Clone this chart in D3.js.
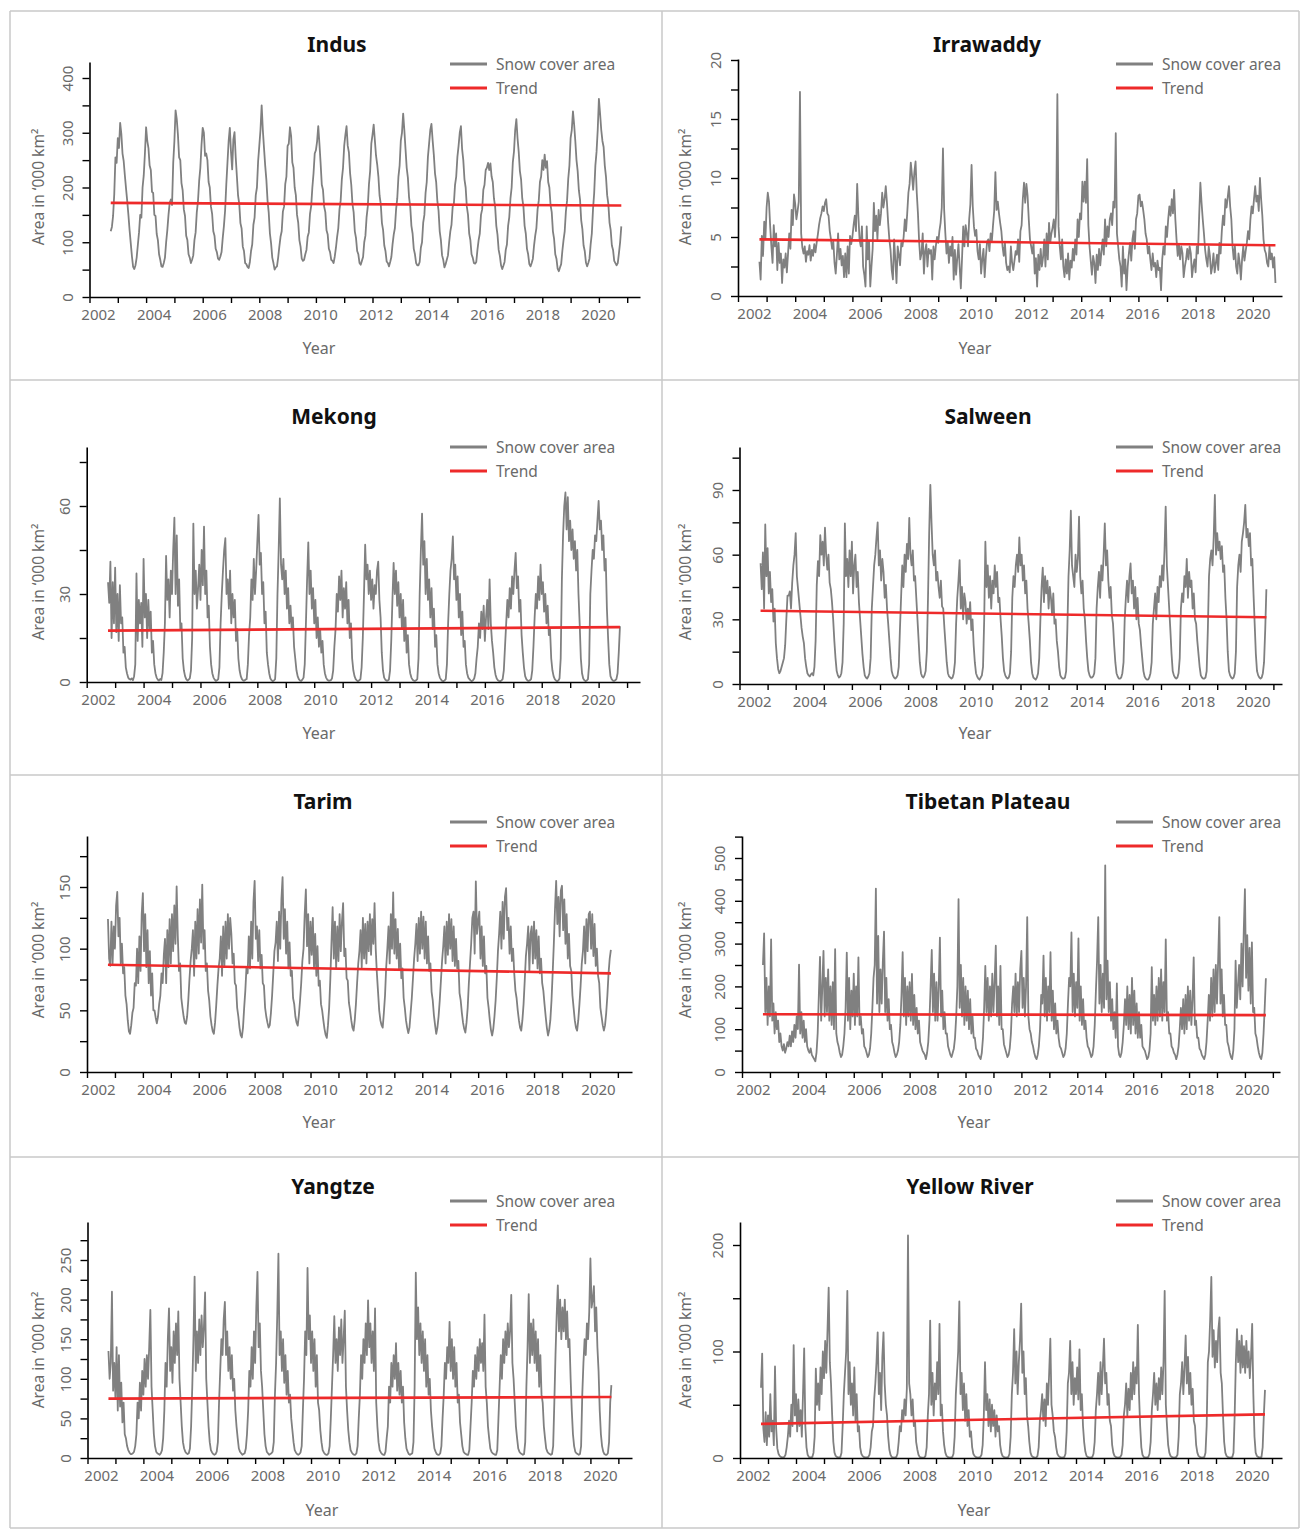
<!DOCTYPE html>
<html><head><meta charset="utf-8">
<script src="https://cdn.jsdelivr.net/npm/d3@7"></script>
<style>
body{margin:0;background:#fff}
svg text{font-family:"Noto Sans",sans-serif}
</style></head>
<body>
<svg id="chart" width="1300" height="1529"></svg>
<script>
// ---------- DATA (semi-monthly values, rows = Oct..Sep water years, first row starts Oct 2002) ----------
const startYear = 2002.75;
const stepYear = 1 / 24;
const basins = ["Indus", "Irrawaddy", "Mekong", "Salween", "Tarim", "Tibetan Plateau", "Yangtze", "Yellow River"];

const indus = [
[120,128,148,188,255,245,290,272,318,298,262,248,222,198,175,150,122,98,74,55,51,58,72,95],
[118,150,145,200,222,262,310,285,272,240,232,192,190,150,148,115,104,78,68,56,55,62,72,100],
[122,150,172,178,168,245,285,341,325,296,255,250,208,195,160,148,112,104,78,72,62,68,76,104],
[118,155,175,212,236,278,309,300,258,262,250,210,200,165,152,120,112,88,82,70,68,74,82,108],
[130,158,205,245,285,309,265,233,288,301,255,220,185,170,135,125,92,84,62,60,55,53,64,84],
[96,132,145,186,200,248,276,305,350,305,272,240,214,176,154,116,98,72,62,50,54,56,72,92],
[110,120,156,165,206,220,276,280,310,294,246,236,200,186,150,136,104,92,70,66,68,78,86,110],
[118,152,166,200,226,262,268,284,312,280,244,205,196,165,155,122,114,88,82,68,66,62,74,90],
[110,126,160,176,215,236,276,296,312,276,264,226,205,170,155,120,108,84,78,62,59,66,73,100],
[112,146,165,206,230,280,296,315,286,258,242,220,185,170,135,122,94,84,65,62,56,64,73,96],
[114,126,160,180,220,240,285,300,335,305,270,236,218,182,165,130,116,88,78,62,58,58,64,90],
[100,136,150,190,210,256,280,305,316,286,260,226,210,175,158,120,104,76,68,54,60,68,76,100],
[120,132,165,170,205,220,256,276,300,312,270,250,215,200,165,150,116,104,78,72,62,61,64,86],
[104,116,150,160,196,205,232,236,245,232,244,220,210,180,165,130,114,86,75,58,51,57,64,86],
[96,130,146,180,200,246,266,305,325,290,265,230,215,180,165,130,116,88,78,60,56,62,70,94],
[112,126,160,176,210,220,250,232,260,236,248,210,200,168,155,120,106,78,70,52,47,54,60,84],
[104,120,156,176,216,240,290,305,339,315,285,250,230,195,178,140,124,94,84,63,56,62,70,96],
[116,160,190,240,265,305,362,335,305,285,274,240,220,186,170,136,122,94,86,66,62,58,62,80],
[100,129]];

const irrawaddy = [
[2.9,1.4,5.1,3.4,6.3,4.8,7.5,8.75,8.0,5.9,4.2,2.8,6.0,4.2,5.3,2.2,4.5,2.8,3.6,1.1,3.1,2.4,3.6,2.0],
[3.6,5.3,4.0,7.3,6.0,8.6,7.8,6.5,7.2,8.0,17.3,5.3,4.1,3.6,4.2,2.9,3.8,3.5,4.3,3.0,3.9,3.4,4.4,3.7],
[4.5,5.2,6.0,6.6,7.0,7.6,7.2,7.9,8.2,7.0,6.8,5.5,4.8,4.0,4.6,2.8,1.9,3.5,5.3,3.1,4.0,2.6,3.4,1.6],
[3.6,1.6,4.2,1.9,5.1,4.4,5.0,6.0,6.8,5.5,9.5,6.8,4.8,4.2,5.9,2.5,1.8,0.8,5.9,3.1,4.6,0.8,2.5,4.0],
[7.9,5.5,6.8,4.8,7.3,6.0,7.0,8.75,7.5,8.2,9.3,7.9,6.2,4.8,3.9,2.2,1.4,4.8,3.1,1.1,4.2,3.5,2.6,4.5],
[4.2,5.0,6.5,5.5,7.0,8.75,9.5,11.3,10.2,9.0,10.5,11.4,8.75,7.0,4.6,3.1,3.6,5.3,1.9,3.8,4.4,2.5,4.0,3.6],
[3.9,1.4,4.2,3.1,4.2,5.0,4.5,5.5,6.2,7.5,12.5,7.3,5.3,3.6,4.6,2.8,4.2,3.4,5.0,1.4,3.9,1.8,3.2,4.4],
[2.5,0.65,3.2,5.9,4.2,6.0,5.3,4.2,6.5,7.8,11.1,7.6,5.9,5.1,5.6,3.8,3.1,4.4,1.9,3.1,4.0,1.6,3.3,4.6],
[4.8,3.8,5.3,4.6,6.0,7.2,10.5,7.3,8.0,7.0,6.2,5.5,4.2,3.4,4.5,2.8,2.2,2.5,2.0,4.2,2.8,2.2,3.0,3.8],
[3.5,4.8,2.9,5.5,6.0,8.2,9.6,7.9,9.5,8.5,6.5,4.8,4.2,3.6,4.5,1.9,3.2,0.8,3.5,2.2,4.0,2.5,3.3,4.8],
[2.5,5.3,3.1,6.2,4.5,5.3,5.8,6.5,5.0,7.0,17.1,5.9,4.2,3.1,4.8,2.5,1.6,3.1,1.9,3.6,1.4,3.0,2.4,4.0],
[3.0,4.8,3.5,6.5,5.0,7.0,6.5,9.7,8.0,9.7,7.9,11.6,6.0,4.2,3.0,1.8,3.4,2.8,1.1,3.5,2.2,4.0,2.6,3.8],
[4.8,3.5,6.5,4.2,5.9,5.0,6.5,7.0,6.0,8.0,7.5,13.8,5.3,4.2,3.1,2.5,0.8,4.2,1.9,3.1,0.5,2.5,3.6,4.5],
[3.0,4.8,5.5,4.0,6.5,7.0,8.5,8.6,7.6,8.0,7.3,6.5,5.3,4.8,3.6,4.2,3.1,2.2,3.6,2.5,2.8,1.6,3.0,2.2],
[2.4,0.5,3.1,4.2,3.5,5.9,5.0,6.5,7.6,6.8,8.2,7.0,9.0,6.5,4.8,3.4,4.4,3.1,4.2,3.6,1.6,2.5,3.1,4.0],
[3.1,4.2,3.6,1.6,2.5,3.1,2.0,4.2,3.6,6.8,9.6,7.9,6.5,5.3,3.9,3.1,2.5,4.2,3.4,1.9,2.5,3.6,2.0,2.8],
[3.5,2.2,4.5,3.6,5.5,6.8,6.0,8.2,7.5,8.4,9.3,7.6,6.5,4.2,3.1,4.2,2.5,1.9,3.6,2.8,1.4,3.1,4.2,3.0],
[3.8,4.5,5.5,4.8,6.5,7.6,7.0,8.2,9.3,8.0,8.5,7.2,10.0,8.2,6.8,4.8,3.9,3.6,2.8,2.5,4.2,3.1,3.6,2.4],
[3.3,1.1]];

const mekong = [
[34,27,41,15,34,20,39,17,30,14,33,20,22,10,12,5,3,1.5,1,0.8,1.2,0.6,2,6],
[37,14,28,20,27,12,42,22,30,15,28,18,24,10,14,6,3,1.5,0.8,0.5,1,0.7,3,10],
[20,43,28,35,22,38,30,45,56,30,50,26,35,18,20,8,4,2,1,0.5,0.8,1.2,4,15],
[54,30,38,25,32,40,28,45,33,53,30,38,22,26,12,6,3,1.5,0.8,0.4,0.6,1,5,20],
[30,38,45,49,30,35,25,38,20,30,22,28,14,18,8,4,2,1,0.5,0.5,0.8,1,6,16],
[22,35,28,42,30,38,48,57,40,44,30,34,20,24,10,6,3,1.2,0.6,0.3,0.5,1,8,30],
[45,62.6,40,35,42,30,38,25,32,20,26,18,22,12,8,4,2,1,0.5,0.4,0.8,1.5,6,20],
[35,47.6,30,38,25,32,20,28,15,22,12,18,10,14,6,3,1.5,0.8,0.5,0.5,0.6,1.2,4,12],
[18,30,24,36,28,38,22,32,25,34,20,28,15,20,8,4,2,1,0.5,0.3,0.6,1,5,15],
[30,46.8,35,40,30,38,28,35,25,33,30,38,41,28,22,10,4,1.5,0.8,0.5,0.5,0.8,4,14],
[28,40.6,30,38,26,34,22,30,18,28,14,22,10,16,6,3,1.5,0.8,0.5,0.4,0.6,1,8,30],
[45,57.4,40,48,30,42,28,35,22,32,18,25,12,16,6,3,1.5,0.8,0.4,0.3,0.5,1,6,20],
[30,38,42,49.6,35,40,28,36,22,30,16,24,12,14,6,3,1.5,1,0.5,0.3,0.6,1.2,3,8],
[12,20,15,24,18,26,14,22,28,18,35,20,14,10,5,2.5,1.2,0.6,0.4,0.3,0.5,1,4,12],
[20,28,22,32,25,36,30,38,44,32,36,24,28,16,10,5,2,1,0.5,0.4,0.6,1,4,12],
[22,30,25,36,28,40,30,34,24,30,20,26,16,18,8,4,2,1,0.5,0.3,0.5,1.2,8,35],
[50,60,64.6,52,63,48,55,45,52,42,48,38,45,30,20,8,3,1.2,0.6,0.3,0.5,1,6,30],
[38,45,42,50,48,55,61.7,52,55,45,50,38,42,25,15,6,2,1,0.5,0.4,0.6,1,3,10],
[19]];

const salween = [
[56,44,61,35,74,50,63,42,52,38,44,29,35,19,12,7,5,6,8,10,12,18,30,41],
[41,43,35,47,55,60,70,50,44,38,32,26,22,19,12,8,5,4,3.5,4.5,5,4,8,20],
[46,57,50,69,60,66,55,72.5,60,53,60,47,44,38,30,20,12,6,4,3,3.5,5,10,28],
[74.5,50,58,45,62,50,66,42,55,60,45,52,38,30,22,14,8,4,3,2.5,3.5,5,12,35],
[45,55,60,68,75,55,62,48,58,52,40,46,35,28,20,12,6,4,3,2.5,3,4,8,25],
[40,55,45,60,52,65,58,77,60,55,62,48,50,40,30,20,10,5,3.5,3,4,6,15,40],
[70,92.4,75,60,55,62,48,52,45,40,48,36,35,26,18,10,5,3.5,3,2.5,3,5,10,28],
[40,48,57.5,35,45,30,42,38,28,35,30,38,25,30,18,10,5,3.5,2.5,2,3,4,8,30],
[66,45,55,40,50,35,48,42,55,45,52,38,40,30,22,12,6,4,3,2.5,3,5,15,40],
[50,45,55,60,52,68,55,60,48,55,42,48,35,28,20,10,5,3,2.5,2,3,5,12,30],
[45,54,38,50,42,48,35,45,40,32,42,28,30,20,15,8,4,3,2.5,2.5,3,6,25,50],
[62,80.4,55,50,45,60,52,58,77.6,50,42,48,35,30,20,12,6,4,3,3,3.5,5,12,35],
[45,52,40,55,48,60,74.5,55,62,48,40,45,32,28,18,10,5,3.5,2.5,2.5,3,5,10,30],
[40,48,38,50,55.9,42,48,35,45,30,40,28,25,18,12,6,3.5,2.5,2,2,3,5,10,28],
[35,42,30,45,38,50,45,55,48,62,82.3,55,45,35,25,14,6,4,3,2.5,3,5,12,35],
[42,38,50,45,58,40,52,45,48,35,42,30,28,20,14,8,4,3,2.5,2.5,3,6,25,50],
[58,62,55,68,87.7,60,70,62,66,58,64,52,55,40,30,15,6,4,3,2.5,3,5,15,45],
[55,60,52,66,70,75,83.1,68,72,64,70,55,58,42,28,14,6,4,3,2.5,3,5,10,25],
[44]];

const tarim = [
[124,92,86,122,88,118,100,135,146,110,125,88,104,80,85,62,55,42,33,31,38,48,52,72],
[70,100,72,110,82,128,145,98,128,85,115,72,98,62,80,50,50,44,39.5,45,55,62,80,72],
[95,108,72,115,85,124,88,128,98,135,104,150.5,110,82,88,60,52,45,40,39,45,58,75,90],
[100,115,78,122,92,132,96,140,105,152,100,115,82,88,66,58,45,38,33,31,40,54,70,84],
[92,110,78,118,85,122,92,128,100,125,112,88,96,72,70,52,45,36,30,28,36,52,66,85],
[80,110,84,122,92,138,155,108,118,90,115,84,95,72,70,52,45,40,36,38,48,62,80,98],
[105,122,90,130,100,140,158,108,132,96,122,84,105,78,82,60,55,45,40,37.6,46,58,72,90],
[100,128,148,102,128,88,122,95,125,84,112,78,102,70,74,55,50,42,35,30,27.7,38,52,75],
[105,133.6,92,122,84,118,90,128,98,122,137,94,100,76,74,56,50,42,36,33.6,42,55,72,88],
[98,115,85,125,92,120,88,122,98,128,95,124,104,137,100,80,65,50,42,38,36,48,62,85],
[100,118,88,128,100,145.7,96,124,92,116,84,104,76,84,60,52,42,36,31.5,36,48,60,76,92],
[104,120,90,125,96,130,100,126,92,122,88,110,82,88,65,58,46,38,31,36,45,58,74,90],
[102,118,88,122,95,128,100,124,90,118,86,108,84,90,64,58,48,40,35,32,40,52,72,88],
[104,125,130,96,154.6,112,122,130,92,118,86,110,80,86,60,52,42,34,29.6,35,45,58,76,98],
[112,130,100,138,108,142,149,115,125,96,118,90,100,80,66,60,50,42,36,33.6,42,55,74,94],
[104,118,82,112,118,88,122,92,115,84,110,80,92,72,66,55,45,36,29.6,34,42,58,80,104],
[132,155,120,142,110,147,151,115,140,104,128,92,112,86,82,62,52,42,36,33.6,42,55,70,88],
[98,118,88,124,98,128,130,100,128,94,120,86,100,78,72,52,45,38,33.6,38,48,62,80,92],
[99]];

const tibetan = [
[250,324,140,220,110,200,130,310,120,160,90,140,100,120,70,90,60,50,65,45,55,70,60,85],
[60,95,70,110,80,130,100,251,90,140,80,120,70,100,60,50,45,55,40,35,30,25,45,90],
[180,269,120,200,283,130,220,140,240,120,200,110,210,100,287,90,70,60,45,35,40,60,90,150],
[279,120,220,100,190,130,230,110,200,130,268,110,130,90,100,60,55,45,35,40,55,90,150,220],
[250,428.6,160,318,140,240,160,260,328,140,220,120,170,100,110,70,60,45,35,40,50,70,110,180],
[280,130,220,110,200,130,210,120,229,110,180,100,150,90,120,70,60,50,45,40,30,45,70,120],
[200,285,140,230,120,210,120,200,314,130,190,100,140,90,90,60,50,40,35,45,55,80,130,200],
[404,150,250,130,220,110,200,120,190,100,170,90,130,80,80,55,50,40,35,30,45,80,150,248],
[140,220,120,200,130,230,140,210,295,130,200,110,248,100,100,65,55,45,35,40,55,90,160,200],
[140,230,130,210,140,240,283,150,220,130,200,362,130,100,90,70,60,45,35,30,40,60,100,180],
[160,272,130,220,120,200,140,280,120,190,100,160,90,120,80,60,55,45,35,40,55,90,160,220],
[200,326,140,230,130,210,150,312,120,200,110,170,100,120,80,60,55,45,35,40,60,110,190,260],
[362,160,250,140,230,150,483,170,260,140,210,120,170,100,140,80,207,60,40,35,45,70,110,170],
[110,200,100,180,90,220,110,190,90,160,80,140,80,110,60,55,50,40,30,35,50,90,245,120],
[180,110,200,120,220,130,240,120,210,140,310,120,140,90,90,60,55,45,40,30,40,60,100,150],
[100,170,90,180,100,200,120,190,110,170,268,110,120,80,80,55,50,40,35,30,40,70,120,180],
[120,220,130,240,140,250,160,260,362,160,240,130,180,110,110,70,60,45,35,30,50,100,260,150],
[200,250,170,300,200,330,427,220,320,190,290,160,303,140,150,90,80,60,45,35,30,45,90,150],
[219]];

const yangtze = [
[135,100,120,210,85,120,75,140,60,130,65,95,45,70,30,25,15,10,7,5,5,6,8,15],
[30,70,50,95,60,110,80,125,90,130,100,140,187,90,60,30,15,8,6,5,4,6,10,25],
[60,120,90,150,189,110,140,95,160,120,170,130,185,100,70,40,20,12,8,6,5,6,12,40],
[90,150,229,110,160,120,175,130,180,140,165,209,100,70,40,20,10,7,5,4,5,8,20,70],
[110,150,130,175,197,130,160,110,140,100,130,85,100,60,40,25,12,8,6,4,5,6,12,30],
[60,110,90,140,100,160,120,190,235,140,170,110,90,60,30,15,8,6,4,5,6,8,20,80],
[120,180,258,130,160,110,150,95,130,80,110,70,80,50,35,20,10,7,5,4,5,7,15,60],
[100,160,130,240,150,180,120,160,110,150,90,130,70,60,35,20,10,7,5,4,4,6,15,50],
[90,130,179,120,150,110,165,130,175,120,150,186,90,60,35,20,10,7,5,4,4,6,15,50],
[80,130,100,150,120,170,130,199,140,170,120,160,110,189,70,40,20,10,7,5,4,4,8,25],
[40,90,70,120,90,130,100,145,85,120,80,110,70,90,45,25,12,8,5,4,5,6,20,90],
[234,150,190,130,170,120,160,110,150,90,130,80,100,60,40,25,12,8,5,4,4,6,15,50],
[80,120,100,140,120,172,110,150,100,140,90,120,70,80,45,30,15,8,6,5,4,4,10,40],
[70,110,90,130,100,140,110,150,120,145,110,181,90,70,40,25,12,8,6,5,4,4,10,50],
[90,130,100,150,120,160,130,170,140,160,206,120,100,70,40,25,12,8,6,5,4,5,20,90],
[140,207,120,170,130,175,120,160,110,150,90,130,80,70,40,25,12,8,6,5,4,5,15,70],
[130,180,218,160,200,150,190,160,200,150,185,140,150,100,60,30,15,8,6,5,4,5,15,80],
[120,150,130,170,150,185,252,190,200,217,160,190,140,110,60,30,15,8,5,4,4,6,20,70],
[92]];

const yellow = [
[66,98,28,15,43,12,40,20,60,25,35,12,86,28,9,4,2,1,0.5,0.5,1,3,10,20],
[35,20,50,30,106,40,60,25,55,30,45,20,60,103,30,10,3,1,0.5,0.5,1,5,20,84],
[50,70,45,85,60,100,75,110,80,120,160,90,70,40,15,5,2,1,0.5,0.5,1,5,30,60],
[80,100,157,60,90,50,70,40,85,35,60,25,30,10,4,2,1,0.5,0.5,0.5,1,3,10,25],
[30,55,70,90,118,60,80,45,95,118,70,50,40,20,8,3,1,0.5,0.3,0.5,1,4,15,30],
[25,45,35,55,40,65,209,70,60,40,55,30,35,15,8,3,1,0.5,0.3,0.3,0.5,2,10,40],
[60,129,50,80,40,70,55,90,60,126,40,50,25,12,5,2,1,0.5,0.3,0.5,1,4,20,60],
[80,100,147,60,80,45,70,35,60,30,45,20,25,10,4,2,1,0.5,0.3,0.5,1,3,12,40],
[90,45,60,30,55,25,50,30,45,20,40,25,30,12,5,2,1,0.5,0.3,0.5,1,4,20,60],
[80,121,70,100,60,90,110,145,80,100,60,75,40,30,15,5,2,1,0.5,0.3,0.5,2,10,35],
[45,60,35,55,30,70,50,80,112,50,40,25,20,10,4,2,1,0.5,0.3,0.5,1,4,25,70],
[80,110,60,90,50,75,60,85,55,102,45,60,30,15,6,2,1,0.5,0.3,0.5,1,4,15,45],
[60,80,50,90,60,85,112,70,80,50,60,35,30,12,5,2,1,0.5,0.3,0.5,1,3,12,40],
[50,70,40,65,45,80,55,90,60,85,70,125,60,30,10,3,1,0.5,0.3,0.5,1,4,15,45],
[60,80,50,70,45,75,55,85,60,90,157,50,30,12,5,2,1,0.5,0.3,0.5,1,3,20,60],
[70,90,60,85,115,70,95,60,80,50,65,35,30,12,5,2,1,0.5,0.3,0.5,1,5,30,90],
[100,130,170,95,120,85,110,90,120,132,80,70,40,15,5,2,1,0.5,0.3,0.5,1,5,40,90],
[121,90,110,80,115,85,105,80,110,85,100,75,95,126,60,20,5,2,1,0.5,0.5,1,10,40],
[64]];

const seriesData = [indus, irrawaddy, mekong, salween, tarim, tibetan, yangtze, yellow];
// Trend line values at start and end of record
const trendStart = [172, 4.8, 17.5, 34, 87, 135, 75, 32];
const trendEnd   = [167, 4.3, 18.7, 31, 80, 133, 77, 41];
// Y axis tick steps (minor) and labelled steps
const yTickStep  = [50, 2.5, 15, 15, 25, 50, 25, 50];
const yLabelStep = [100, 5, 30, 30, 50, 100, 50, 100];
const yearTicks = d3.range(2002, 2022);
const yearLabels = d3.range(2002, 2021, 2);
const legendLabels = ["Snow cover area", "Trend"];

// ---------- LAYOUT ----------
const layout = [
 {x0:89.5, ppy:28.3,  xEnd:640,  lab:[98,598],   y0:297,  refVal:400, refPx:78,   top:62,   title:[337,44],   yt:[38,187],   year:[319,348],   leg:[450,64]},
 {x0:738,  ppy:28.6,  xEnd:1282, lab:[754,1253], y0:296,  refVal:20,  refPx:60,   top:59,   title:[987,44],   yt:[685,187],  year:[975,348],   leg:[1116,64]},
 {x0:86.7, ppy:28.44, xEnd:640,  lab:[98,598],   y0:682,  refVal:60,  refPx:506,  top:447,  title:[334,416],  yt:[38,582],   year:[319,733],   leg:[450,447]},
 {x0:739.5,ppy:28.1,  xEnd:1282, lab:[754,1253], y0:684,  refVal:90,  refPx:490,  top:447,  title:[988,416],  yt:[685,582],  year:[975,733],   leg:[1116,447]},
 {x0:87,   ppy:27.94, xEnd:632,  lab:[98,598],   y0:1072, refVal:150, refPx:887,  top:836,  title:[323,801],  yt:[38,960],   year:[319,1122],  leg:[450,822]},
 {x0:742,  ppy:27.94, xEnd:1280, lab:[753,1252], y0:1072, refVal:500, refPx:858,  top:836,  title:[988,801],  yt:[685,960],  year:[974,1122],  leg:[1116,822]},
 {x0:87.5, ppy:27.94, xEnd:632,  lab:[101,600],  y0:1458, refVal:250, refPx:1260, top:1222, title:[333,1186], yt:[38,1350],  year:[322,1510],  leg:[450,1201]},
 {x0:740,  ppy:28.0,  xEnd:1282, lab:[753,1252], y0:1458, refVal:200, refPx:1245, top:1222, title:[970,1186], yt:[685,1350],  year:[974,1510],  leg:[1116,1201]}
];
const gridV = [10, 662, 1299];
const gridH = [11, 380, 775, 1157, 1528];

const GRAY = "#808080", RED = "#ee2a2a", TXT = "#6a6a6a";
const svg = d3.select("#chart");

// panel borders
svg.append("g").selectAll("line").data(gridV).join("line")
  .attr("x1", d => d).attr("x2", d => d).attr("y1", gridH[0]).attr("y2", gridH[gridH.length-1])
  .attr("stroke", "#c9c9c9").attr("stroke-width", 1.5);
svg.append("g").selectAll("line").data(gridH).join("line")
  .attr("y1", d => d).attr("y2", d => d).attr("x1", gridV[0]).attr("x2", gridV[gridV.length-1])
  .attr("stroke", "#c9c9c9").attr("stroke-width", 1.5);

function styleAxis(g) {
  g.selectAll(".domain").attr("stroke", "#000").attr("stroke-width", 1.6);
  g.selectAll(".tick line").attr("stroke", "#000").attr("stroke-width", 1.4);
  g.selectAll("text").attr("fill", TXT).style("font-size", "15px").style("font-family", "'Noto Sans', sans-serif");
}

basins.forEach((name, i) => {
  const L = layout[i];
  const g = svg.append("g");
  const x = d3.scaleLinear().domain([2002, 2002 + (L.xEnd - L.x0) / L.ppy]).range([L.x0, L.xEnd]);
  const yRef = d3.scaleLinear().domain([0, L.refVal]).range([L.y0, L.refPx]);
  const y = d3.scaleLinear().domain([0, yRef.invert(L.top)]).range([L.y0, L.top]);
  const xLab = d3.scaleLinear().domain([2002, 2020]).range(L.lab);
  const vals = seriesData[i].flat();
  const tYear = j => startYear + j * stepYear;

  // series line
  g.append("path").datum(vals)
    .attr("fill", "none").attr("stroke", GRAY).attr("stroke-width", 1.8).attr("stroke-linejoin", "round")
    .attr("d", d3.line().x((d, j) => x(tYear(j))).y(d => y(d)));

  // trend line
  const tr = [[tYear(0), trendStart[i]], [tYear(vals.length - 1), trendEnd[i]]];
  g.append("path").datum(tr)
    .attr("fill", "none").attr("stroke", RED).attr("stroke-width", 2.6)
    .attr("d", d3.line().x(d => x(d[0])).y(d => y(d[1])));

  // x axis ticks
  const xa = g.append("g").attr("transform", `translate(0,${L.y0})`)
    .call(d3.axisBottom(x).tickValues(yearTicks.filter(v => x(v) <= L.xEnd - 2)).tickSize(6).tickSizeOuter(0).tickFormat(""));
  styleAxis(xa);
  // x labels
  const xl = g.append("g").attr("transform", `translate(0,${L.y0})`)
    .call(d3.axisBottom(xLab).tickValues(yearLabels).tickSize(0).tickFormat(d3.format("d")));
  xl.select(".domain").remove();
  styleAxis(xl);
  xl.selectAll("text").attr("y", 18).attr("dy", "0.35em");

  // y axis
  const ticks = d3.range(0, y.domain()[1] + 1e-9, yTickStep[i]);
  const ya = g.append("g").attr("transform", `translate(${L.x0},0)`)
    .call(d3.axisLeft(y).tickValues(ticks).tickSize(7).tickSizeOuter(0)
      .tickFormat(d => (Math.abs(d / yLabelStep[i] - Math.round(d / yLabelStep[i])) < 1e-6) ? d3.format("d")(d) : ""));
  styleAxis(ya);
  ya.selectAll("text").attr("transform", "rotate(-90)").attr("x", 0).attr("y", -22)
    .attr("dy", "0.35em").attr("text-anchor", "middle");

  // titles
  g.append("text").attr("x", L.title[0]).attr("y", L.title[1]).attr("text-anchor", "middle")
    .attr("dominant-baseline", "central").style("font-size", "21px").style("font-weight", "700")
    .attr("fill", "#111").text(name);
  g.append("text").attr("x", L.year[0]).attr("y", L.year[1]).attr("text-anchor", "middle")
    .attr("dominant-baseline", "central").style("font-size", "16px").attr("fill", TXT).text("Year");
  g.append("text").attr("transform", `translate(${L.yt[0]},${L.yt[1]}) rotate(-90)`)
    .attr("text-anchor", "middle").attr("dominant-baseline", "central")
    .style("font-size", "15.5px").attr("fill", TXT).text("Area in \u2018000 km\u00B2");

  // legend
  const lg = g.append("g").attr("transform", `translate(${L.leg[0]},${L.leg[1]})`);
  legendLabels.forEach((lab, k) => {
    lg.append("line").attr("x1", 0).attr("x2", 37).attr("y1", k * 24).attr("y2", k * 24)
      .attr("stroke", k === 0 ? GRAY : RED).attr("stroke-width", 3);
    lg.append("text").attr("x", 46).attr("y", k * 24).attr("dominant-baseline", "central")
      .style("font-size", "15.5px").attr("fill", TXT).text(lab);
  });
});
</script>
</body></html>
